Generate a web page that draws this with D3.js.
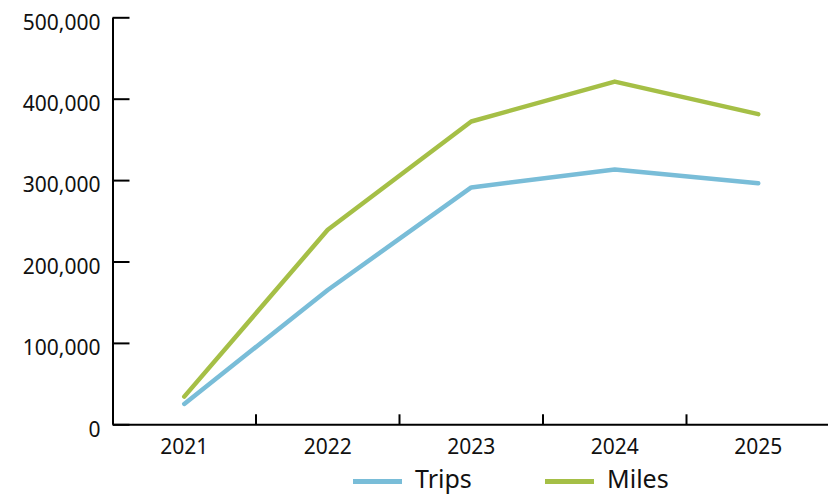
<!DOCTYPE html>
<html>
<head>
<meta charset="utf-8">
<script src="https://cdn.jsdelivr.net/npm/d3@7"></script>
<style>
  html, body { margin: 0; padding: 0; background: #fff; }
  svg { display: block; font-family: "Noto Sans", sans-serif; }
</style>
</head>
<body>
<svg id="chart" width="828" height="494"></svg>
<script>
// Yearly totals
const years = ["2021", "2022", "2023", "2024", "2025"];
const trips = [25000, 165000, 291000, 313000, 296000];
const miles = [34000, 239000, 372000, 421000, 381000];
const yTicks = [0, 100000, 200000, 300000, 400000, 500000];

const seriesNames = ["Trips", "Miles"];
const seriesColors = ["#79bdd8", "#a5bf46"];
const seriesValues = [trips, miles];

const svg = d3.select("#chart");
const plotLeft = 112.5, plotRight = 830, plotTop = 17.3, plotBottom = 424.3;

const x = d3.scaleBand().domain(years).range([plotLeft, plotRight]).padding(0);
const y = d3.scaleLinear().domain([0, 500000]).range([plotBottom, plotTop]);

// y axis with inward ticks
svg.append("g")
  .attr("transform", `translate(${plotLeft},0)`)
  .call(d3.axisLeft(y).tickValues(yTicks).tickSizeInner(-17).tickSizeOuter(0)
    .tickPadding(12).tickFormat(d3.format(",")))
  .call(g => {
    g.select(".domain").attr("stroke", "#000").attr("stroke-width", 2);
    g.selectAll(".tick line").attr("stroke", "#000").attr("stroke-width", 2);
    g.selectAll(".tick text").attr("font-size", 21).attr("fill", "#111")
      .attr("font-family", "'Noto Sans', sans-serif").attr("dy", "0.32em")
      .attr("y", 5);
  });

// x axis: labels at band centres, ticks on band boundaries
svg.append("g")
  .attr("transform", `translate(0,${plotBottom})`)
  .call(d3.axisBottom(x).tickSize(0).tickSizeOuter(0).tickPadding(15))
  .call(g => {
    g.select(".domain").attr("stroke", "#000").attr("stroke-width", 2);
    g.selectAll(".tick text").attr("font-size", 21).attr("fill", "#111")
      .attr("font-family", "'Noto Sans', sans-serif");
  });

svg.append("g")
  .selectAll("line")
  .data(years.slice(1))
  .join("line")
  .attr("x1", d => x(d)).attr("x2", d => x(d))
  .attr("y1", plotBottom).attr("y2", plotBottom - 10)
  .attr("stroke", "#000").attr("stroke-width", 2);

// series lines
const line = d3.line()
  .x((d, i) => x(years[i]) + x.bandwidth() / 2)
  .y(d => y(d));

seriesValues.forEach((vals, k) => {
  svg.append("path")
    .datum(vals)
    .attr("d", line)
    .attr("fill", "none")
    .attr("stroke", seriesColors[k])
    .attr("stroke-width", 4.5)
    .attr("stroke-linejoin", "round")
    .attr("stroke-linecap", "round");
});

// legend
const legendX = [353, 545];
const legend = svg.append("g");
seriesNames.forEach((name, k) => {
  legend.append("line")
    .attr("x1", legendX[k]).attr("x2", legendX[k] + 49)
    .attr("y1", 481.5).attr("y2", 481.5)
    .attr("stroke", seriesColors[k]).attr("stroke-width", 5);
  legend.append("text")
    .attr("x", legendX[k] + 62).attr("y", 488)
    .attr("font-size", 25).attr("fill", "#111")
    .text(name);
});
</script>
</body>
</html>
